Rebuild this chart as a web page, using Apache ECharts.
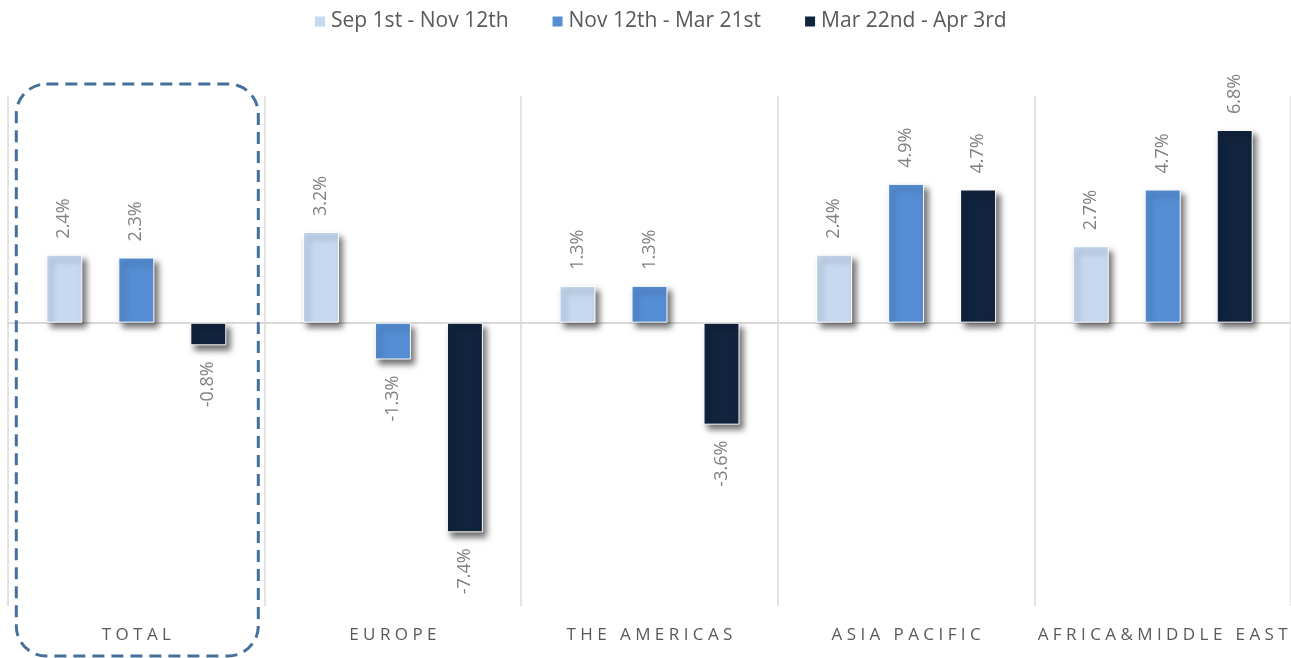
<!DOCTYPE html>
<html><head><meta charset="utf-8">
<script src="https://cdn.jsdelivr.net/npm/echarts@6/dist/echarts.min.js"></script>
<style>html,body{margin:0;padding:0;background:#fff}#c{width:1291px;height:658px}</style>
</head><body><div id="c"></div>
<script>
const categories = ['TOTAL', 'EUROPE', 'THE AMERICAS', 'ASIA PACIFIC', 'AFRICA&MIDDLE EAST'];
const seriesNames = ['Sep 1st - Nov 12th', 'Nov 12th - Mar 21st', 'Mar 22nd - Apr 3rd'];
const sepNov = [2.4, 3.2, 1.3, 2.4, 2.7];
const novMar = [2.3, -1.3, 1.3, 4.9, 4.7];
const marApr = [-0.8, -7.4, -3.6, 4.7, 6.8];
const colors = ['#c6d9f1', '#558ed5', '#10243e'];

const FONT = 'Open Sans';
function spaced(name) {
  return name.split(' ').map(w => w.split('').join(' ')).join('   ');
}
function items(values) {
  return values.map(v => ({
    value: v,
    label: v >= 0
      ? { position: 'top', align: 'left', verticalAlign: 'middle' }
      : { position: 'bottom', align: 'right', verticalAlign: 'middle' }
  }));
}
const allValues = [sepNov, novMar, marApr];

const chart = echarts.init(document.getElementById('c'), null, { renderer: 'canvas' });
const option = {
  animation: false,
  backgroundColor: '#fff',
  color: colors,
  legend: {
    top: 6, left: 308,
    itemWidth: 12, itemHeight: 12, itemGap: 42,
    icon: 'rect',
    textStyle: { fontFamily: FONT, fontSize: 21, color: '#595959' },
    data: seriesNames
  },
  grid: { left: 8, width: 1285, top: 96, height: 510, containLabel: false },
  xAxis: {
    type: 'category',
    data: categories,
    axisTick: { show: false },
    axisLine: { show: true, onZero: true, lineStyle: { color: '#d9d9d9', width: 2 } },
    splitLine: { show: true, interval: 0, lineStyle: { color: '#d9d9d9', width: 1.5 } },
    axisLabel: {
      interval: 0, margin: 21, color: '#595959', fontFamily: FONT, fontSize: 17,
      formatter: spaced
    }
  },
  yAxis: {
    type: 'value', min: -10, max: 8, interval: 2,
    show: false, splitLine: { show: false }
  },
  series: seriesNames.map((name, i) => ({
    name: name,
    type: 'bar',
    barWidth: 36,
    barGap: '100%',
    data: items(allValues[i]),
    itemStyle: {
      color: colors[i],
      borderColor: '#ffffff', borderWidth: 1,
      shadowBlur: 6, shadowColor: 'rgba(0,0,0,0.55)',
      shadowOffsetX: 4, shadowOffsetY: 5
    },
    label: {
      show: true, rotate: 90, distance: 16,
      color: '#808080', fontFamily: FONT, fontSize: 18,
      formatter: p => p.value.toFixed(1) + '%'
    }
  }))
};
chart.setOption(option);

// Highlight box around the TOTAL category
const cx = chart.convertToPixel({ xAxisIndex: 0 }, categories[0]);
const yTop = chart.convertToPixel({ yAxisIndex: 0 }, 8);
chart.setOption({
  graphic: [{
    type: 'rect', z: 100,
    shape: { x: cx - 120, y: yTop - 12, width: 242, height: 572, r: 30 },
    style: { fill: 'none', stroke: '#44709c', lineWidth: 3, lineDash: [12, 7] },
    silent: true
  }]
});
</script></body></html>
